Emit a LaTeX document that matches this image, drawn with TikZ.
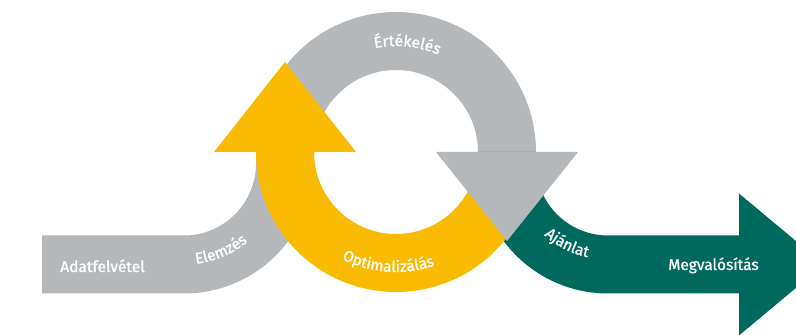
\documentclass[tikz,border=0pt]{standalone}
\usepackage{fontspec}
\setmainfont{Fira Sans}[FakeBold=1.2]
\usetikzlibrary{decorations.text}
\definecolor{cgrey}{HTML}{B5B8BB}
\definecolor{cyellow}{HTML}{F9BA00}
\definecolor{cteal}{HTML}{00695E}
\tikzset{
  lab/.style={text=white, font=\fontsize{15.5}{17}\selectfont, inner sep=0pt},
  arclab/.style={decorate, decoration={text along path, text align=center,
     text={|\fontsize{15.5}{17}\selectfont\color{white}|#1}}}
}
\begin{document}
\begin{tikzpicture}[x=1pt,y=1pt]
\useasboundingbox (0,0) rectangle (796,335);
\clip (0,0) rectangle (796,335);
% grey band and ring
\fill[cgrey] (42,41.5) -- (184,41.5) arc[start angle=-90,end angle=0,radius=130]
  -- (314,183) arc[start angle=180,end angle=0,radius=82]
  -- (536,183) arc[start angle=0,end angle=180,radius=140]
  -- (256,171.5) arc[start angle=0,end angle=-90,radius=72]
  -- (42,99.5) -- cycle;
% teal arrow
\fill[cteal] (478,183) -- (478,171.5) arc[start angle=180,end angle=270,radius=130]
  -- (739,41.5) -- (739,-0.5) -- (824,70.5) -- (739,141.5) -- (739,99.5)
  -- (608,99.5) arc[start angle=270,end angle=180,radius=72]
  -- (536,183) -- cycle;
% yellow ring and arrow
\fill[cyellow] (536,183) arc[start angle=0,end angle=-180,radius=140]
  -- (214,183) -- (285,273) -- (356,183)
  -- (314,183) arc[start angle=180,end angle=360,radius=82] -- cycle;
% grey arrowhead
\fill[cgrey] (436,183) -- (507,94) -- (578,183) -- cycle;
% labels
\node[lab, anchor=base] (adat) at (102.5,63) {Adatfelvétel};
\node[lab, anchor=base] (megv) at (713.5,65) {Megvalósítás};
\path[arclab=Értékelés] (396,183) ++(124:106) arc[start angle=124,end angle=44,radius=106];
\path[arclab=Optimalizálás] (396,183) ++(-134:120) arc[start angle=-134,end angle=-54,radius=120];
\path[arclab=Elemzés] (184,171.5) ++(-97:101) arc[start angle=-97,end angle=-37,radius=101];
\path[arclab=Ajánlat] (608,171.5) ++(-147:96) arc[start angle=-147,end angle=-87,radius=96];
\end{tikzpicture}
\end{document}
